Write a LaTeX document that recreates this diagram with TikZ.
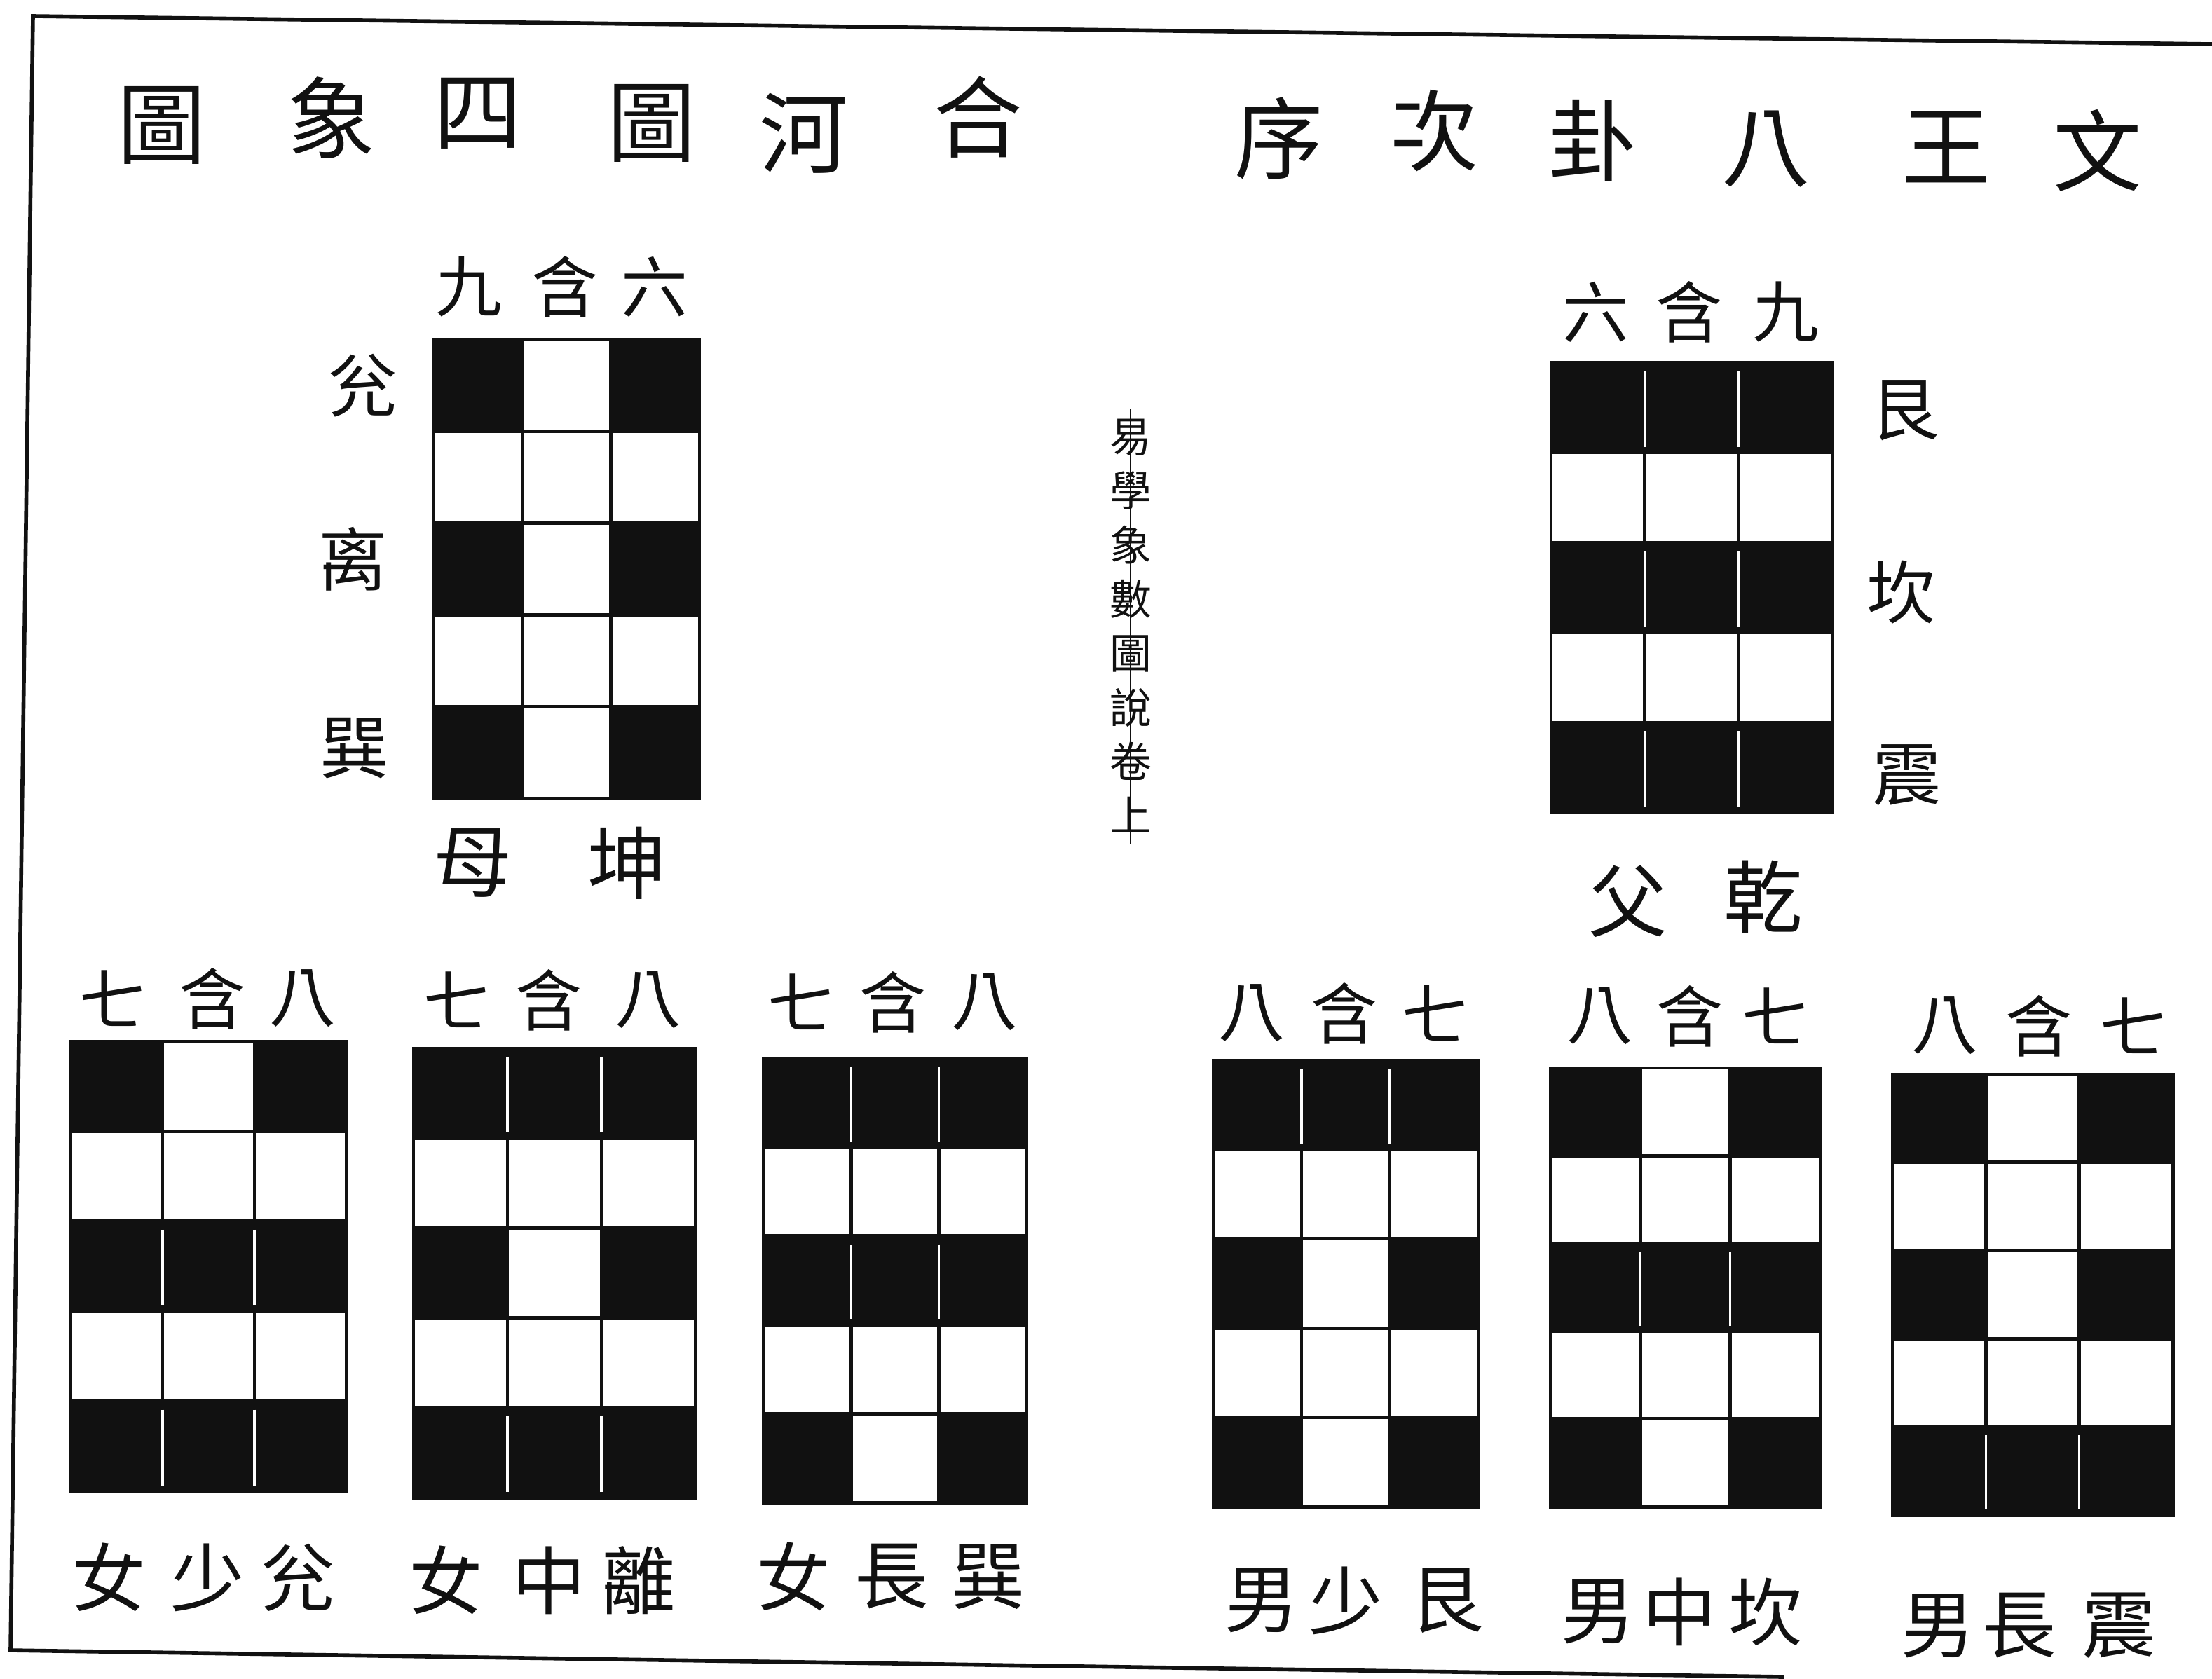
\documentclass[tikz,border=0pt]{standalone}
\usepackage{fontspec}
\newfontfamily\cjk{Noto Sans CJK TC}
\definecolor{ink}{HTML}{111111}
\usetikzlibrary{calc}

\begin{document}
\begin{tikzpicture}[x=1cm,y=-1cm,
  ttl/.style={font=\cjk\fontsize{36}{36}\selectfont, text=ink, inner sep=0pt},
  lab/.style={font=\cjk\fontsize{27}{27}\selectfont, text=ink, inner sep=0pt},
  side/.style={font=\cjk\fontsize{28}{28}\selectfont, text=ink, inner sep=0pt},
  par/.style={font=\cjk\fontsize{32}{32}\selectfont, text=ink, inner sep=0pt},
  sub/.style={font=\cjk\fontsize{30}{30}\selectfont, text=ink, inner sep=0pt},
  spine/.style={font=\cjk\fontsize{17}{22}\selectfont, text=ink, inner sep=0pt, align=center},
  frame/.style={draw=ink, line width=1.6pt},
  cellb/.style={fill=ink, draw=ink, line width=1.4pt},
  cellw/.style={fill=white, draw=ink, line width=1.4pt},
  gap/.style={draw=white, line width=0.9pt}]
\useasboundingbox[fill=white] (0,0) rectangle (31.56,23.95);

% Page frame (slightly skewed scan)
\coordinate (ftl) at (0.47,0.23);
\coordinate (ftr) at (31.56,0.63);
\coordinate (fbl) at (0.15,23.55);
\coordinate (fbr) at (25.45,23.93);
\draw[frame] (ftr) -- (ftl) -- (fbl) -- (fbr);

% Titles
\foreach \t/\x/\y [count=\i] in {圖/2.31/1.79, 象/4.73/1.68, 四/6.82/1.62,
    圖/9.30/1.76, 河/11.47/1.90, 合/13.96/1.67}
  \node[ttl] (ta\i) at (\x,\y) {\t};
\foreach \t/\x/\y [count=\i] in {序/18.25/1.97, 次/20.47/1.87, 卦/22.73/2.00,
    八/25.20/2.13, 王/27.77/2.10, 文/29.93/2.15}
  \node[ttl] (tb\i) at (\x,\y) {\t};

% Grids: x0/y0/x1/y1 and middle cell of rows 1,3,5 (1 = black)
\foreach \gx/\gy/\gX/\gY/\ma/\mb/\mc in {
    6.19/4.84/9.98/11.40/0/0/0,    % kun
    22.13/5.17/26.14/11.60/1/1/1,  % qian
    1.01/14.86/4.94/21.28/0/1/1,   % dui
    5.90/14.96/9.92/21.37/1/0/1,   % li
    10.89/15.10/14.65/21.44/1/1/0, % xun
    17.31/15.13/21.09/21.50/1/0/0, % gen
    22.12/15.24/25.97/21.50/0/1/0, % kan
    27.00/15.33/31.00/21.62/0/0/1  % zhen
  }{
  \pgfmathsetmacro{\cw}{(\gX-\gx)/3}
  \pgfmathsetmacro{\ch}{(\gY-\gy)/5}
  \foreach \r in {0,...,4}{
    \pgfmathtruncatemacro{\midbit}{\r==0 ? \ma : (\r==2 ? \mb : \mc)}
    \foreach \c in {0,1,2}{
      \pgfmathtruncatemacro{\blk}{(mod(\r,2)==0) && ((\c!=1) || (\midbit==1))}
      \ifnum\blk=1 \def\sty{cellb}\else\def\sty{cellw}\fi
      \path[\sty] (\gx+\c*\cw,\gy+\r*\ch) rectangle (\gx+\c*\cw+\cw,\gy+\r*\ch+\ch);
    }
    % thin white seams inside a solid row
    \pgfmathtruncatemacro{\solid}{(mod(\r,2)==0) && (\midbit==1)}
    \ifnum\solid=1
      \foreach \c in {1,2}
        \draw[gap] (\gx+\c*\cw,\gy+\r*\ch+0.12) -- (\gx+\c*\cw,\gy+\r*\ch+\ch-0.08);
    \fi
  }
}

% Kun (mother)
\foreach \t/\x [count=\i] in {九/6.69, 含/8.06, 六/9.34}
  \node[lab] (kt\i) at (\x,4.09) {\t};
\node[side] (kdui) at (5.18,5.50) {兊};
\node[side] (kli)  at (5.04,7.98) {离};
\node[side] (kxun) at (5.06,10.68) {巽};
\node[par] (kmu)  at (6.75,12.32) {母};
\node[par] (kkun) at (8.95,12.32) {坤};

% Qian (father)
\foreach \t/\x [count=\i] in {六/22.77, 含/24.10, 九/25.48}
  \node[lab] (qt\i) at (\x,4.45) {\t};
\node[side] (qgen)  at (27.18,5.86) {艮};
\node[side] (qkan)  at (27.13,8.45) {坎};
\node[side] (qzhen) at (27.21,11.06) {震};
\node[par] (qfu)   at (23.23,12.86) {父};
\node[par] (qqian) at (25.16,12.80) {乾};

% Daughters
\foreach \a/\b/\y [count=\i] in {1.61/3.03/14.25, 6.52/7.83/14.27, 11.43/12.74/14.30}{
  \node[lab] (dq\i) at (\a,\y) {七};
  \node[lab] (dh\i) at (\b,\y) {含};
}
\node[lab] (db1) at (4.32,14.25) {八};
\node[lab] (db2) at (9.25,14.27) {八};
\node[lab] (db3) at (14.05,14.30) {八};
\foreach \t/\x/\y [count=\i] in {女/1.55/22.51, 少/2.96/22.51, 兊/4.25/22.51,
    女/6.36/22.55, 中/7.83/22.55, 離/9.11/22.55,
    女/11.32/22.50, 長/12.72/22.50, 巽/14.10/22.50}
  \node[sub] (dn\i) at (\x,\y) {\t};

% Sons
\foreach \a/\b/\c/\y [count=\i] in {17.86/19.18/20.48/14.46, 22.83/24.11/25.33/14.50,
    27.75/29.09/30.44/14.64}{
  \node[lab] (sb\i) at (\a,\y) {八};
  \node[lab] (sh\i) at (\b,\y) {含};
  \node[lab] (sq\i) at (\c,\y) {七};
}
\foreach \t/\x/\y [count=\i] in {男/18.00/22.84, 少/19.20/22.84, 艮/20.64/22.84,
    男/22.80/23.00, 中/23.96/23.00, 坎/25.19/23.00,
    男/27.65/23.20, 長/28.81/23.20, 震/30.23/23.20}
  \node[sub] (sn\i) at (\x,\y) {\t};

% Fold of the page
\coordinate (foldtop) at (16.13,5.83);
\coordinate (foldbot) at (16.13,12.04);
\node[spine] (spine) at ($(foldtop)!0.5!(foldbot)$) {易\\學\\象\\數\\圖\\說\\卷\\上};
\draw[ink, line width=0.8pt] (foldtop) -- (foldbot);
\end{tikzpicture}
\end{document}
